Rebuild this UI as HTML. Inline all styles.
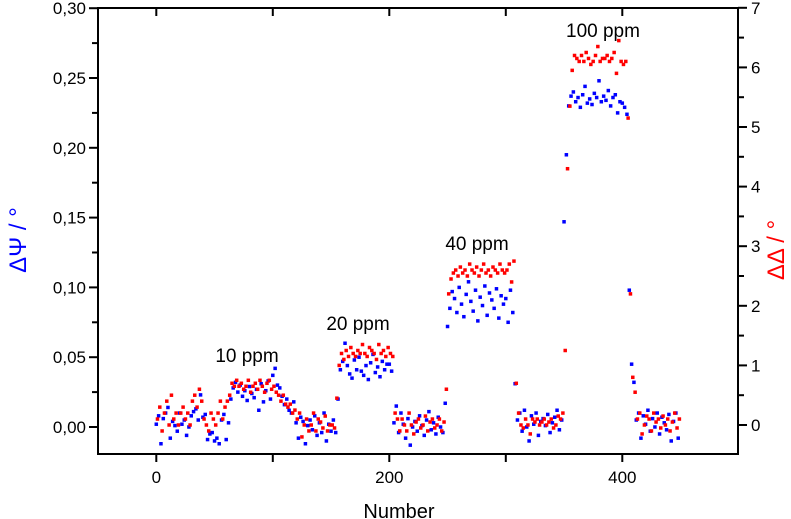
<!DOCTYPE html>
<html><head><meta charset="utf-8"><style>
body{margin:0;background:#fff}
svg{display:block;font-family:"Liberation Sans",sans-serif}
</style></head><body>
<svg id="chart" width="791" height="519" viewBox="0 0 791 519" xmlns="http://www.w3.org/2000/svg">
<g id="axes"></g>
<g id="marks"></g>
<text x="247" y="362" font-size="19" text-anchor="middle">10 ppm</text>
<text x="358" y="330" font-size="19" text-anchor="middle">20 ppm</text>
<text x="477" y="250" font-size="19" text-anchor="middle">40 ppm</text>
<text x="603" y="37" font-size="19" text-anchor="middle">100 ppm</text>
<text x="399" y="518" font-size="20" text-anchor="middle">Number</text>
<text transform="translate(26,240) rotate(-90)" font-size="24" fill="#0000ff" text-anchor="middle">ΔΨ / °</text>
<text transform="translate(784,250) rotate(-90)" font-size="24" fill="#ff0000" text-anchor="middle">ΔΔ / °</text>
</svg>
<script>
const xTicks=[0,100,200,300,400,500];
const xTickLabels=["0","","200","","400",""];
const psiTicks=[0,0.025,0.05,0.075,0.1,0.125,0.15,0.175,0.2,0.225,0.25,0.275,0.3];
const psiTickLabels=["0,00","","0,05","","0,10","","0,15","","0,20","","0,25","","0,30"];
const deltaTicks=[0,0.5,1,1.5,2,2.5,3,3.5,4,4.5,5,5.5,6,6.5,7];
const deltaTickLabels=["0","","1","","2","","3","","4","","5","","6","","7"];
const psi=[
0.002,0.008,-0.012,0.006,0.010,0.014,-0.008,0.004,0.001,-0.003,0.010,0.002,0.005,-0.006,0.000,0.008,0.011,0.013,0.005,0.023,0.007,0.009,-0.009,-0.005,-0.004,
-0.010,-0.008,-0.012,0.005,0.009,-0.009,0.003,0.020,0.028,0.032,0.025,0.030,0.022,0.026,0.019,0.029,0.024,0.021,0.027,0.012,0.031,0.018,0.026,0.033,0.020,
0.037,0.042,0.030,0.028,0.022,0.016,0.020,0.012,0.010,0.018,0.003,-0.008,0.007,0.004,-0.012,0.001,0.005,-0.002,0.008,-0.006,0.003,-0.004,0.010,-0.010,0.002,
-0.003,0.005,-0.004,0.020,0.041,0.047,0.060,0.044,0.038,0.035,0.048,0.041,0.050,0.040,0.037,0.044,0.034,0.046,0.052,0.039,0.043,0.036,0.047,0.041,0.045,
0.045,0.040,0.003,0.015,-0.004,0.010,0.002,-0.008,0.006,-0.013,0.000,0.004,-0.003,0.008,0.001,-0.006,0.005,0.011,-0.002,0.003,-0.005,0.007,0.000,-0.004,0.017,
0.072,0.085,0.097,0.092,0.082,0.100,0.088,0.079,0.095,0.104,0.090,0.083,0.098,0.076,0.093,0.087,0.101,0.080,0.096,0.091,0.085,0.099,0.078,0.094,0.088,
0.092,0.075,0.098,0.082,0.031,0.005,0.010,-0.003,0.012,0.000,-0.010,0.008,0.002,0.010,-0.006,0.004,0.006,0.001,0.009,-0.004,0.003,0.007,0.012,-0.002,0.005,
0.147,0.195,0.230,0.237,0.240,0.233,0.236,0.229,0.238,0.244,0.232,0.235,0.231,0.239,0.236,0.248,0.233,0.237,0.234,0.241,0.230,0.236,0.238,0.225,0.233,
0.232,0.229,0.224,0.098,0.045,0.032,0.005,0.010,-0.008,0.008,0.002,0.012,-0.003,0.006,0.000,0.010,-0.005,0.007,0.003,-0.002,0.009,-0.010,0.004,0.010,-0.008];
const delta=[
0.1,0.3,-0.1,0.2,0.4,0.0,0.5,0.1,0.2,0.0,0.2,0.3,0.1,0.2,0.0,0.4,0.5,0.3,0.6,0.4,0.1,0.0,-0.1,0.2,0.1,
0.0,0.2,0.4,0.1,0.3,0.4,0.5,0.7,0.65,0.75,0.65,0.7,0.6,0.65,0.75,0.55,0.65,0.7,0.6,0.75,0.65,0.55,0.7,0.75,0.6,
0.65,0.55,0.5,0.4,0.5,0.35,0.3,0.35,0.2,0.25,0.1,0.2,-0.2,0.0,0.1,-0.1,0.0,0.2,-0.1,0.1,0.05,-0.05,0.15,-0.1,0.0,
0.0,-0.05,0.45,1.0,1.2,1.1,1.25,1.15,1.3,1.2,1.15,1.25,1.2,1.35,1.2,1.15,1.3,1.25,1.2,1.1,1.35,1.2,1.25,1.15,1.3,
1.2,1.15,0.2,0.1,-0.1,0.1,0.0,-0.1,0.2,0.0,-0.15,0.05,0.1,-0.05,0.0,0.15,-0.1,0.05,0.1,-0.05,0.0,0.1,-0.1,0.05,0.6,
2.2,2.45,2.55,2.6,2.5,2.65,2.55,2.6,2.5,2.7,2.6,2.55,2.65,2.5,2.6,2.7,2.55,2.6,2.5,2.65,2.6,2.55,2.7,2.6,2.55,
2.6,2.7,2.4,2.75,0.7,0.2,0.0,-0.05,0.1,0.0,-0.15,0.1,0.05,0.1,0.0,0.05,0.1,0.0,0.05,0.1,-0.05,0.0,0.15,0.1,0.2,
1.25,4.3,5.35,5.95,6.2,6.15,6.1,6.2,6.1,6.25,6.15,6.05,6.1,6.2,6.35,6.1,6.15,6.15,6.2,6.1,6.15,6.25,5.9,6.45,6.1,
6.05,6.1,5.15,2.2,0.8,0.55,0.1,0.2,-0.15,0.0,0.15,0.1,-0.1,0.2,0.05,0.1,-0.05,0.15,0.0,0.1,-0.1,0.05,0.2,-0.05,0.1];
const indexStep=2;

const NS="http://www.w3.org/2000/svg";
const L=98,R=738,T=8,B=454;
const xs=v=>156.3+v*1.165;
const yPsi=v=>427-v/0.05*69.8;
const yDel=v=>425-v*59.6;
const axes=document.getElementById('axes'),marks=document.getElementById('marks');
function mk(tag,attrs,parent){const e=document.createElementNS(NS,tag);for(const k in attrs)e.setAttribute(k,attrs[k]);parent.appendChild(e);return e;}
const frame=mk('rect',{x:L,y:T,width:R-L,height:B-T,fill:'none',stroke:'#000','stroke-width':2},axes);


xTicks.forEach((t,i)=>{const x=xs(t);if(x>R)return;
 const tk=mk('line',{x1:x,x2:x,y1:B,y2:B+8,stroke:'#000','stroke-width':2},axes);
 
 
 mk('line',{x1:x,x2:x,y1:T,y2:T+8,stroke:'#000','stroke-width':2},axes);
 if(xTickLabels[i]){const tx=mk('text',{x:x,y:B+29,'font-size':17,'text-anchor':'middle'},axes);tx.textContent=xTickLabels[i];
 
 }
});
psiTicks.forEach((t,i)=>{const y=yPsi(t);
 const major=!!psiTickLabels[i];
 const tk=mk('line',{x1:L-(major?9:6),x2:L,y1:y,y2:y,stroke:'#000','stroke-width':2},axes);
 
 
 if(major){const tx=mk('text',{x:L-12,y:y+6,'font-size':17,'text-anchor':'end'},axes);tx.textContent=psiTickLabels[i];
 
 }
});
deltaTicks.forEach((t,i)=>{const y=yDel(t);
 const major=!!deltaTickLabels[i];
 const tk=mk('line',{x1:R,x2:R+(major?9:6),y1:y,y2:y,stroke:'#000','stroke-width':2},axes);
 
 
 if(major){const tx=mk('text',{x:R+13,y:y+6,'font-size':17,'text-anchor':'start'},axes);tx.textContent=deltaTickLabels[i];
 
 }
});
psi.forEach((v,i)=>{const p=mk('rect',{x:xs(i*indexStep)-1.75,y:yPsi(v)-1.75,width:3.5,height:3.5,fill:'#0000ff'},marks);
 
 });
delta.forEach((v,i)=>{const p=mk('rect',{x:xs(i*indexStep+1)-1.75,y:yDel(v)-1.75,width:3.5,height:3.5,fill:'#ff0000'},marks);
 
 });
</script>
</body></html>
